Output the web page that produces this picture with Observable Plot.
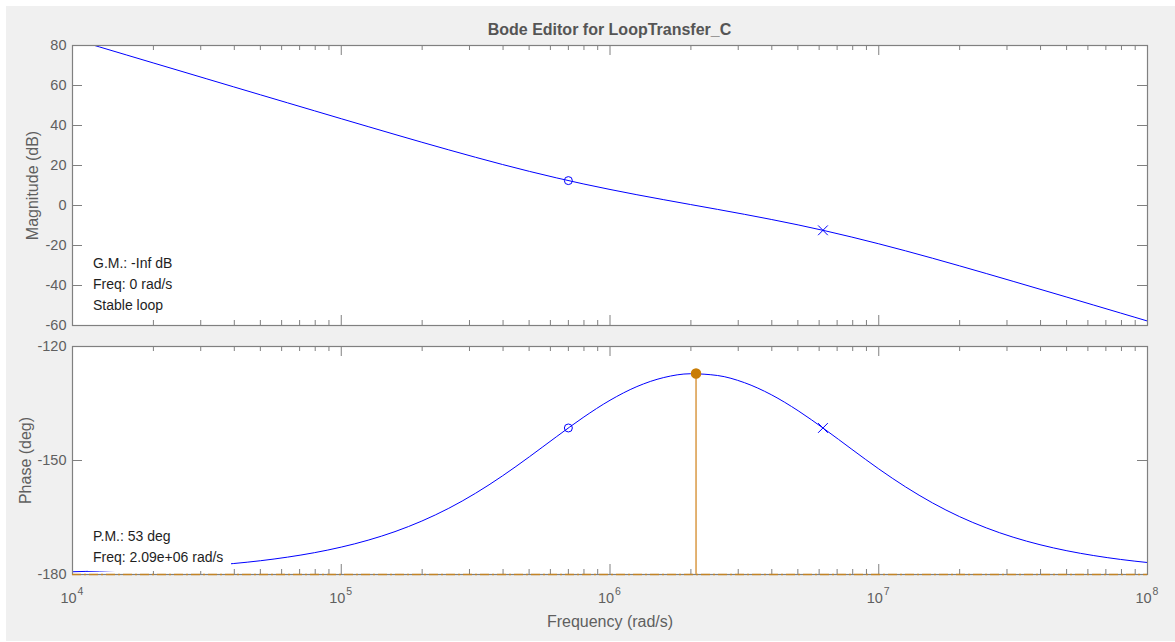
<!DOCTYPE html>
<html>
<head>
<meta charset="utf-8">
<script src="https://cdn.jsdelivr.net/npm/d3@7"></script>
<script src="https://cdn.jsdelivr.net/npm/@observablehq/plot@0.6"></script>
<style>
html, body { margin: 0; padding: 0; background: #ffffff; overflow: hidden; }
#wrap { position: relative; width: 1175px; height: 642px; font-family: "Liberation Sans", Arial, Helvetica, sans-serif; }
#bg { position: absolute; left: 6px; top: 6px; width: 1169px; height: 635px; background: #f0f0f0; }
.layer { position: absolute; left: 0; top: 0; }
#title { position: absolute; left: 0; top: 20px; width: 1219px; text-align: center; font-weight: bold; font-size: 16px; line-height: 20px; color: #555555; }
.note { position: absolute; left: 88px; width: 143px; box-sizing: border-box; padding-left: 5px; background: #ffffff; font-size: 14px; line-height: 21px; color: #1e1e1e; white-space: nowrap; }
</style>
</head>
<body>
<div id="wrap">
  <div id="bg"></div>
  <div id="plots"></div>
  <div id="title">Bode Editor for LoopTransfer_C</div>
  <div class="note" id="gm" style="top:253px;height:64px;background:transparent;">G.M.: -Inf dB<br>Freq: 0 rad/s<br>Stable loop</div>
  <div class="note" id="pm" style="top:526px;height:45px;">P.M.: 53 deg<br>Freq: 2.09e+06 rad/s</div>
</div>
<script>
// ---------- data ----------
const freqs = [
  1.000e4, 1.259e4, 1.585e4, 1.995e4, 2.512e4, 3.162e4, 3.981e4, 5.012e4, 6.310e4, 7.943e4,
  1.000e5, 1.259e5, 1.585e5, 1.995e5, 2.512e5, 3.162e5, 3.981e5, 5.012e5, 6.310e5, 7.943e5,
  1.000e6, 1.259e6, 1.585e6, 1.995e6, 2.512e6, 3.162e6, 3.981e6, 5.012e6, 6.310e6, 7.943e6,
  1.000e7, 1.259e7, 1.585e7, 1.995e7, 2.512e7, 3.162e7, 3.981e7, 5.012e7, 6.310e7, 7.943e7,
  1.000e8
];
const magnitudeDb = [
  83.30, 79.30, 75.30, 71.30, 67.31, 63.31, 59.31, 55.32, 51.34, 47.36,
  43.39, 39.44, 35.51, 31.63, 27.82, 24.10, 20.50, 17.07, 13.84, 10.82,
  8.02, 5.39, 2.90, 0.47, -1.94, -4.40, -6.97, -9.70, -12.64, -15.79,
  -19.15, -22.68, -26.36, -30.15, -34.01, -37.92, -41.86, -45.82, -49.80, -53.78,
  -57.77
];
const phaseDeg = [
  -179.27, -179.09, -178.85, -178.55, -178.18, -177.71, -177.11, -176.37, -175.43, -174.26,
  -172.79, -170.97, -168.71, -165.93, -162.58, -158.61, -154.05, -149.02, -143.78, -138.69,
  -134.15, -130.55, -128.17, -127.17, -127.63, -129.51, -132.68, -136.90, -141.83, -147.06,
  -152.21, -156.96, -161.16, -164.75, -167.73, -170.18, -172.16, -173.75, -175.02, -176.04,
  -176.85
];
const zeroMarker = [{f: 7.0e5, mag: 12.45, phase: -141.44}];
const poleMarker = [{f: 6.2e6, mag: -12.41, phase: -141.44}];
const pmMarker = [{f: 2.09e6, phase: -127.1, base: -180}];
const criticalPhase = [-180];

const xMajor = [1e4, 1e5, 1e6, 1e7, 1e8];
const xExponent = ["4", "5", "6", "7", "8"];
const minorMultipliers = [2, 3, 4, 5, 6, 7, 8, 9];
const xMinor = xMajor.slice(0, 4).flatMap(d => minorMultipliers.map(m => m * d));
const magTicks = [80, 60, 40, 20, 0, -20, -40, -60];
const phaseTicks = [-120, -150, -180];

// ---------- styling ----------
const W = 1175, H = 642, ML = 72, MR = 28;
const axisColor = "#808080", labelColor = "#5f5f5f";
const blue = "#0000ff", orange = "#cf8516";
const font = "'Liberation Sans', Arial, Helvetica, sans-serif";

const magRows = freqs.map((f, i) => ({f, v: magnitudeDb[i]}));
const phaseRows = freqs.map((f, i) => ({f, v: phaseDeg[i]}));

function frameTicks(fh, fw, yTicks) {
  return [
    Plot.tickX(xMinor, {x: d => d, insetTop: fh - 5, stroke: axisColor}),
    Plot.tickX(xMinor, {x: d => d, insetBottom: fh - 5, stroke: axisColor}),
    Plot.tickX(xMajor, {x: d => d, insetTop: fh - 10, stroke: axisColor}),
    Plot.tickX(xMajor, {x: d => d, insetBottom: fh - 10, stroke: axisColor}),
    Plot.tickY(yTicks, {y: d => d, insetRight: fw - 10, stroke: axisColor}),
    Plot.tickY(yTicks, {y: d => d, insetLeft: fw - 10, stroke: axisColor}),
    Plot.text(yTicks, {y: d => d, text: d => String(d), frameAnchor: "left", dx: -6, textAnchor: "end", lineAnchor: "middle", fill: labelColor, fontSize: 14.5})
  ];
}

const commonStyle = {background: "transparent", fontFamily: font, overflow: "visible"};

// ---------- magnitude panel ----------
const t1 = 45, b1 = 325;
const magPlot = Plot.plot({
  width: W, height: H,
  marginTop: t1, marginBottom: H - b1, marginLeft: ML, marginRight: MR,
  style: commonStyle,
  x: {type: "log", domain: [1e4, 1e8], axis: null},
  y: {domain: [-60, 80], axis: null},
  marks: [
    Plot.frame({fill: "white", stroke: "none"}),
    ...frameTicks(b1 - t1, W - ML - MR, magTicks),
    Plot.line(magRows, {x: "f", y: "v", stroke: blue, strokeWidth: 1, curve: "monotone-x", clip: true}),
    Plot.dot(zeroMarker, {x: "f", y: "mag", r: 4, symbol: "circle", stroke: blue, fill: "none", strokeWidth: 1}),
    Plot.dot(poleMarker, {x: "f", y: "mag", r: 4.5, symbol: "times", stroke: blue, strokeWidth: 1}),
    Plot.frame({stroke: axisColor, strokeWidth: 1.2}),
    Plot.text(["Magnitude (dB)"], {text: d => d, frameAnchor: "left", dx: -40, rotate: -90, textAnchor: "middle", lineAnchor: "middle", fontSize: 16, fill: labelColor})
  ]
});

// ---------- phase panel ----------
const t2 = 346, b2 = 574;
const phasePlot = Plot.plot({
  width: W, height: H,
  marginTop: t2, marginBottom: H - b2, marginLeft: ML, marginRight: MR,
  style: commonStyle,
  x: {type: "log", domain: [1e4, 1e8], axis: null},
  y: {domain: [-180, -120], axis: null},
  marks: [
    Plot.frame({fill: "white", stroke: "none"}),
    ...frameTicks(b2 - t2, W - ML - MR, phaseTicks),
    Plot.line(phaseRows, {x: "f", y: "v", stroke: blue, strokeWidth: 1, curve: "monotone-x", clip: true}),
    Plot.dot(zeroMarker, {x: "f", y: "phase", r: 4, symbol: "circle", stroke: blue, fill: "none", strokeWidth: 1}),
    Plot.dot(poleMarker, {x: "f", y: "phase", r: 4.5, symbol: "times", stroke: blue, strokeWidth: 1}),
    Plot.frame({stroke: axisColor, strokeWidth: 1.2}),
    Plot.ruleY(criticalPhase, {y: d => d, stroke: orange, strokeWidth: 1.6, strokeDasharray: "9,3,2,3", strokeOpacity: 0.85}),
    Plot.ruleX(pmMarker, {x: "f", y1: "base", y2: "phase", stroke: "#dca050", strokeWidth: 1.6}),
    Plot.dot(pmMarker, {x: "f", y: "phase", r: 4.5, fill: "#c97d06", stroke: "#c97d06"}),
    Plot.text(xMajor, {x: d => d, text: () => "10", frameAnchor: "bottom", lineAnchor: "middle", dy: 24, dx: -4, fontSize: 14.5, fill: labelColor}),
    Plot.text(xMajor, {x: d => d, text: (d, i) => xExponent[i], frameAnchor: "bottom", lineAnchor: "middle", dy: 17.5, dx: 5, textAnchor: "start", fontSize: 10.5, fill: labelColor}),
    Plot.text(["Frequency (rad/s)"], {text: d => d, frameAnchor: "bottom", lineAnchor: "middle", dy: 47, fontSize: 16, fill: labelColor}),
    Plot.text(["Phase (deg)"], {text: d => d, frameAnchor: "left", dx: -47, rotate: -90, textAnchor: "middle", lineAnchor: "middle", fontSize: 16, fill: labelColor})
  ]
});

const host = document.getElementById("plots");
[magPlot, phasePlot].forEach(p => { p.classList.add("layer"); p.style.maxWidth = "none"; host.appendChild(p); });
</script>
</body>
</html>
